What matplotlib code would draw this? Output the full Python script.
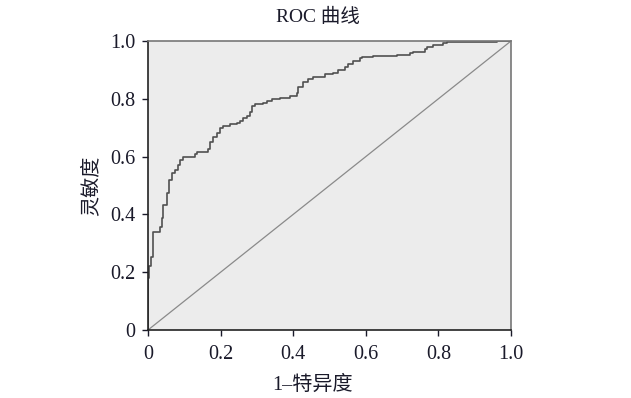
import matplotlib
matplotlib.use("Agg")
import matplotlib.pyplot as plt

plt.rcParams['font.family'] = ['Liberation Serif', 'Noto Sans CJK SC', 'DejaVu Sans']

# ROC curve vertices (1 - specificity, sensitivity)
fpr = [0.000, 0.000, 0.003, 0.008, 0.015, 0.033, 0.038, 0.041, 0.052, 0.058,
       0.065, 0.074, 0.082, 0.088, 0.097, 0.129, 0.135, 0.166, 0.171, 0.180,
       0.189, 0.198, 0.207, 0.226, 0.244, 0.253, 0.263, 0.272, 0.281, 0.286,
       0.295, 0.318, 0.327, 0.341, 0.364, 0.391, 0.410, 0.414, 0.428, 0.442,
       0.455, 0.479, 0.488, 0.510, 0.524, 0.543, 0.552, 0.566, 0.584, 0.589,
       0.621, 0.658, 0.685, 0.722, 0.731, 0.763, 0.768, 0.786, 0.813, 0.823,
       0.961, 1.000]
tpr = [0.000, 0.180, 0.221, 0.253, 0.339, 0.356, 0.388, 0.433, 0.474, 0.519,
       0.543, 0.554, 0.571, 0.588, 0.599, 0.609, 0.616, 0.625, 0.652, 0.669,
       0.681, 0.698, 0.706, 0.712, 0.717, 0.724, 0.733, 0.742, 0.755, 0.775,
       0.782, 0.784, 0.792, 0.798, 0.804, 0.810, 0.819, 0.842, 0.859, 0.867,
       0.874, 0.877, 0.885, 0.890, 0.900, 0.909, 0.920, 0.932, 0.940, 0.946,
       0.948, 0.949, 0.952, 0.957, 0.962, 0.971, 0.980, 0.985, 0.994, 0.997,
       1.000, 1.000]

ticks = [0, 0.2, 0.4, 0.6, 0.8, 1.0]
tick_labels = ["0", "0.2", "0.4", "0.6", "0.8", "1.0"]

fig = plt.figure(figsize=(6.31, 3.98), dpi=100)
ax = fig.add_axes([148 / 631, 1 - 330 / 398, 363 / 631, 289 / 398])
ax.set_facecolor("#ececec")

ax.plot([0, 1], [0, 1], color="#8a8a8a", lw=0.9)
ax.plot(fpr, tpr, drawstyle="steps-post", color="#505050", lw=1.2)

ax.set_xlim(0, 1)
ax.set_ylim(0, 1)
ax.set_xticks(ticks)
ax.set_xticklabels(tick_labels)
ax.set_yticks(ticks)
ax.set_yticklabels(tick_labels)
ax.tick_params(direction="out", length=4, width=1, labelsize=14.5, colors="#1a1a2a")
ax.tick_params(axis="x", pad=7)
ax.tick_params(axis="y", pad=5)

for side in ["left", "bottom"]:
    ax.spines[side].set_color("#222222")
    ax.spines[side].set_linewidth(1.2)
for side in ["top", "right"]:
    ax.spines[side].set_color("#777777")
    ax.spines[side].set_linewidth(1.2)

ax.set_title("ROC 曲线", fontsize=14, color="#1a1a2a", pad=14, x=0.467)
ax.set_xlabel("1–特异度", fontsize=14.5, color="#1a1a2a", labelpad=8, x=0.452)
ax.set_ylabel("灵敏度", fontsize=14.5, color="#1a1a2a", labelpad=6)

fig.savefig("out.png", dpi=100)
